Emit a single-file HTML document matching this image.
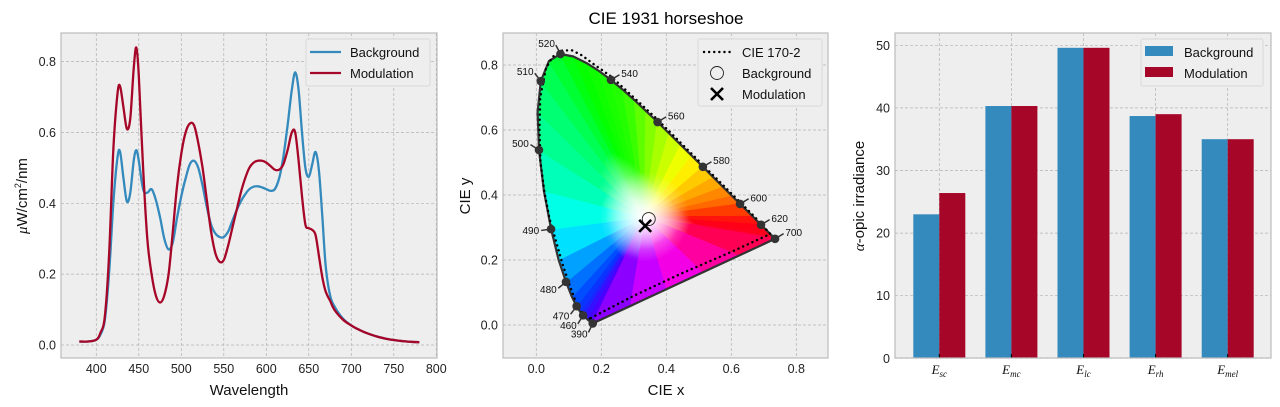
<!DOCTYPE html>
<html><head><meta charset="utf-8"><style>
body{margin:0;background:#fff}
svg{display:block;font-family:"Liberation Sans",sans-serif}
</style></head><body>
<svg id="fig" width="1280" height="407" viewBox="0 0 1280 407" xmlns="http://www.w3.org/2000/svg">
<text x="666" y="24" font-size="17" text-anchor="middle" fill="#000">CIE 1931 horseshoe</text>
</svg>
<script>
// ---------- DATA ----------
const wavelengths=[380,390,400,405,410,415,420,425,428,432,436,440,444,447,450,455,460,465,470,475,480,485,490,495,500,505,510,515,520,525,530,535,540,545,550,555,560,565,570,575,580,585,590,595,600,605,610,615,620,625,630,634,638,642,646,650,654,658,662,666,670,675,680,690,700,710,720,730,740,750,760,770,780];
const backgroundSpd=[.01,.01,.015,.03,.07,.2,.4,.53,.545,.47,.405,.43,.52,.55,.52,.44,.43,.44,.41,.36,.30,.27,.29,.36,.42,.47,.51,.52,.50,.45,.39,.34,.315,.305,.305,.32,.35,.38,.405,.425,.44,.447,.448,.445,.44,.435,.44,.47,.53,.62,.72,.77,.72,.6,.5,.475,.51,.545,.49,.36,.22,.14,.11,.075,.055,.042,.032,.024,.018,.014,.011,.009,.008];
const modulationSpd=[.01,.01,.015,.035,.08,.25,.55,.71,.73,.67,.61,.64,.78,.84,.76,.5,.3,.2,.14,.12,.14,.2,.32,.45,.54,.6,.625,.62,.57,.5,.41,.32,.26,.235,.24,.28,.33,.38,.43,.47,.5,.515,.52,.52,.515,.505,.495,.495,.51,.55,.6,.6,.52,.42,.34,.33,.325,.31,.25,.19,.15,.125,.1,.072,.055,.042,.032,.024,.018,.014,.011,.009,.008];
const spdXTicks=[400,450,500,550,600,650,700,750,800];
const spdYTicks=[0.0,0.2,0.4,0.6,0.8];

const locusNm=[390,400,420,440,450,460,465,470,475,480,485,490,495,500,505,510,515,520,525,530,535,540,545,550,555,560,565,570,575,580,585,590,595,600,610,620,630,640,660,700];
const locusX=[.1738,.1733,.1714,.1644,.1566,.1440,.1355,.1241,.1096,.0913,.0687,.0454,.0235,.0082,.0039,.0139,.0389,.0743,.1142,.1547,.1929,.2296,.2658,.3016,.3373,.3731,.4087,.4441,.4788,.5125,.5448,.5752,.6029,.6270,.6658,.6915,.7079,.7190,.7300,.7347];
const locusY=[.0049,.0048,.0051,.0109,.0177,.0297,.0399,.0578,.0868,.1327,.2007,.2950,.4127,.5384,.6548,.7502,.8120,.8338,.8262,.8059,.7816,.7543,.7243,.6923,.6589,.6245,.5896,.5547,.5202,.4866,.4544,.4242,.3965,.3725,.3340,.3083,.2920,.2809,.2700,.2653];
const cie170X=[.165,.14,.12,.10,.08,.06,.04,.025,.013,.01,.012,.03,.05,.08,.11,.14,.18,.23,.30,.37,.44,.50,.56,.62,.67,.72,.60,.45,.30,.165];
const cie170Y=[.02,.04,.075,.13,.19,.26,.33,.41,.50,.60,.70,.79,.825,.845,.845,.83,.80,.765,.70,.635,.565,.505,.445,.385,.335,.28,.225,.16,.09,.02];
const markerNm=[390,460,470,480,490,500,510,520,540,560,580,600,620,700];
const bgXY=[0.346,0.326];
const modXY=[0.335,0.305];
const cieTicks=[0.0,0.2,0.4,0.6,0.8];

const categories=["sc","mc","lc","rh","mel"];
const barBackground=[23.0,40.3,49.6,38.7,35.0];
const barModulation=[26.4,40.3,49.6,39.0,35.0];
const barYTicks=[0,10,20,30,40,50];

// ---------- HELPERS ----------
const NS="http://www.w3.org/2000/svg";
const fig=document.getElementById('fig');
function mk(tag,attrs,parent){const e=document.createElementNS(NS,tag);for(const k in attrs)e.setAttribute(k,attrs[k]);(parent||fig).appendChild(e);return e;}
function txt(s,attrs,parent){const e=mk('text',attrs,parent);e.textContent=s;return e;}
function smooth(pts){
  let d='M'+pts[0][0].toFixed(1)+','+pts[0][1].toFixed(1);
  for(let i=0;i<pts.length-1;i++){
    const p0=pts[Math.max(0,i-1)],p1=pts[i],p2=pts[i+1],p3=pts[Math.min(pts.length-1,i+2)];
    const c1=[p1[0]+(p2[0]-p0[0])/6,p1[1]+(p2[1]-p0[1])/6];
    const c2=[p2[0]-(p3[0]-p1[0])/6,p2[1]-(p3[1]-p1[1])/6];
    d+='C'+c1.map(v=>v.toFixed(1)).join(',')+' '+c2.map(v=>v.toFixed(1)).join(',')+' '+p2[0].toFixed(1)+','+p2[1].toFixed(1);
  }
  return d;
}
function axesBg(x0,y0,x1,y1,name){
  const r=mk('rect',{x:x0,y:y0,width:x1-x0,height:y1-y0,fill:'#eeeeee'});
  
  
}
function frame(x0,y0,x1,y1){const r=mk('rect',{x:x0,y:y0,width:x1-x0,height:y1-y0,fill:'none',stroke:'#bcbcbc','stroke-width':1.2});
  
  }
function gridV(x,y0,y1){const l=mk('line',{x1:x,x2:x,y1:y0,y2:y1,stroke:'#b2b2b2','stroke-width':0.7,'stroke-dasharray':'3,2'});
  
  }
function gridH(y,x0,x1){const l=mk('line',{x1:x0,x2:x1,y1:y,y2:y,stroke:'#b2b2b2','stroke-width':0.7,'stroke-dasharray':'3,2'});
  
  }

// ---------- PANEL 1: SPECTRUM ----------
(function(){
  const X0=61,X1=437,Y0=33,Y1=358;
  const sx=w=>96.3+(w-400)*0.85, sy=v=>345-v*354.2;
  axesBg(X0,Y0,X1,Y1,'spectrum-axes');
  spdXTicks.forEach(t=>{gridV(sx(t),Y0,Y1);
    const e=txt(String(t),{x:sx(t),y:373,'font-size':12.5,'text-anchor':'middle',fill:'#222'});
    
    });
  spdYTicks.forEach(t=>{gridH(sy(t),X0,X1);
    const e=txt(t.toFixed(1),{x:56,y:sy(t)+4.5,'font-size':12.5,'text-anchor':'end',fill:'#222'});
    
    });
  function line(vals,color,name){
    const d=smooth(wavelengths.map((w,i)=>[sx(w),sy(vals[i])]));
    const p=mk('path',{d:d,fill:'none',stroke:color,'stroke-width':2.3,'stroke-linejoin':'round'});
    
    
  }
  line(backgroundSpd,'#348abd','background-spectrum');
  line(modulationSpd,'#a60628','modulation-spectrum');
  frame(X0,Y0,X1,Y1);
  const xl=txt('Wavelength',{x:249,y:395,'font-size':15,'text-anchor':'middle',fill:'#111'});
  
  
  const yl=txt('',{x:0,y:0,'font-size':15,'text-anchor':'middle',fill:'#111',transform:'translate(27,196) rotate(-90)'});
  yl.innerHTML='<tspan font-style="italic" font-family="Liberation Serif">μ</tspan>W/cm<tspan font-size="9" dy="-6">2</tspan><tspan dy="6">/nm</tspan>';
  
  
  const lg=mk('g',{});
  
  
  mk('rect',{x:306,y:39,width:124,height:47,rx:2,fill:'#eeeeee',stroke:'#d8d8d8'},lg);
  mk('line',{x1:310,x2:341,y1:52,y2:52,stroke:'#348abd','stroke-width':2.2},lg);
  mk('line',{x1:310,x2:341,y1:73,y2:73,stroke:'#a60628','stroke-width':2.2},lg);
  txt('Background',{x:350,y:57,'font-size':13,fill:'#111'},lg);
  txt('Modulation',{x:350,y:78,'font-size':13,fill:'#111'},lg);
})();

// ---------- PANEL 2: CIE ----------
(function(){
  const X0=503,X1=828,Y0=33,Y1=358;
  const sx=v=>536.3+v*325, sy=v=>325-v*325;
  axesBg(X0,Y0,X1,Y1,'cie-axes');
  cieTicks.forEach(t=>{gridV(sx(t),Y0,Y1);gridH(sy(t),X0,X1);
    const a=txt(t.toFixed(1),{x:sx(t),y:373,'font-size':12.5,'text-anchor':'middle',fill:'#222'});
    
    
    const b=txt(t.toFixed(1),{x:498,y:sy(t)+4.5,'font-size':12.5,'text-anchor':'end',fill:'#222'});
    
    });
  function nmColor(nm){
    const stops=[[380,[110,0,255]],[450,[70,0,255]],[470,[0,60,255]],[480,[0,130,255]],[490,[0,255,255]],[500,[0,255,160]],[510,[0,255,100]],[525,[0,255,0]],[545,[40,255,0]],[560,[150,255,0]],[575,[255,255,0]],[590,[255,150,0]],[605,[255,60,0]],[620,[255,0,20]],[700,[255,0,50]]];
    for(let i=1;i<stops.length;i++){if(nm<=stops[i][0]){const a=stops[i-1],b=stops[i],t=(nm-a[0])/(b[0]-a[0]);return 'rgb('+a[1].map((c,k)=>Math.round(c+(b[1][k]-c)*t)).join(',')+')';}}
    return 'rgb(255,0,50)';
  }
  const wx=sx(0.333),wy=sy(0.333);
  const defs=mk('defs',{});
  const fillG=mk('g',{});
  
  
  let gid=0;
  function tri(ax,ay,bx,by,col){
    const mx=(ax+bx)/2,my=(ay+by)/2,id='g'+(gid++);
    const lg=mk('linearGradient',{id:id,gradientUnits:'userSpaceOnUse',x1:mx,y1:my,x2:wx,y2:wy},defs);
    mk('stop',{offset:0,'stop-color':col},lg);
    mk('stop',{offset:0.6,'stop-color':col},lg);
    mk('stop',{offset:1,'stop-color':'#ffffff'},lg);
    mk('path',{d:`M${wx},${wy}L${ax},${ay}L${bx},${by}Z`,fill:`url(#${id})`,stroke:`url(#${id})`,'stroke-width':1.2},fillG);
  }
  for(let i=0;i<locusNm.length-1;i++){
    tri(sx(locusX[i]),sy(locusY[i]),sx(locusX[i+1]),sy(locusY[i+1]),nmColor((locusNm[i]+locusNm[i+1])/2));
  }
  const pc=[[255,0,50],[255,0,120],[255,0,200],[230,0,255],[170,0,255],[110,0,255]];
  const n=locusNm.length-1;
  for(let k=0;k<5;k++){
    const t0=k/5,t1=(k+1)/5;
    const ax=sx(locusX[n]+(locusX[0]-locusX[n])*t0),ay=sy(locusY[n]+(locusY[0]-locusY[n])*t0);
    const bx=sx(locusX[n]+(locusX[0]-locusX[n])*t1),by=sy(locusY[n]+(locusY[0]-locusY[n])*t1);
    const c=pc[k].map((v,j)=>Math.round((v+pc[k+1][j])/2));
    tri(ax,ay,bx,by,'rgb('+c.join(',')+')');
  }
  // soft white glow in center
  const rg=mk('radialGradient',{id:'wg',gradientUnits:'userSpaceOnUse',cx:wx,cy:wy,r:45},defs);
  mk('stop',{offset:0,'stop-color':'#fff','stop-opacity':0.8},rg);
  mk('stop',{offset:1,'stop-color':'#fff','stop-opacity':0},rg);
  mk('circle',{cx:wx,cy:wy,r:45,fill:'url(#wg)'},fillG);
  const d=locusX.map((x,i)=>(i?'L':'M')+sx(x).toFixed(1)+','+sy(locusY[i]).toFixed(1)).join('')+'Z';
  const outline=mk('path',{d:d,fill:'none',stroke:'#333','stroke-width':2.2,'stroke-linejoin':'round'});
  
  
  const d2=cie170X.map((x,i)=>(i?'L':'M')+sx(x).toFixed(1)+','+sy(cie170Y[i]).toFixed(1)).join('');
  const dot=mk('path',{d:d2,fill:'none',stroke:'#000','stroke-width':2.4,'stroke-dasharray':'0.1,5','stroke-linecap':'round'});
  
  
  markerNm.forEach(nm=>{
    const i=locusNm.indexOf(nm);const px=sx(locusX[i]),py=sy(locusY[i]);
    let dx=px-wx,dy=py-wy;
    if(nm>=540){dx=1;dy=-0.6;}
    const L=Math.hypot(dx,dy);dx/=L;dy/=L;
    const g=mk('g',{});
    
    
    mk('line',{x1:px,y1:py,x2:px+dx*10,y2:py+dy*10,stroke:'#333','stroke-width':1.5},g);
    mk('circle',{cx:px,cy:py,r:4.3,fill:'#333'},g);
    const lx=px+dx*12,ly=py+dy*12+3.5;
    txt(String(nm),{x:lx,y:ly,'font-size':10,'text-anchor':dx<-0.3?'end':(dx>0.3?'start':'middle'),fill:'#111'},g);
  });
  const bc=mk('circle',{cx:sx(bgXY[0]),cy:sy(bgXY[1]),r:6.5,fill:'none',stroke:'#222','stroke-width':0.9});
  
  
  const mx=sx(modXY[0]),my=sy(modXY[1]);
  const xm=mk('path',{d:`M${mx-6},${my-6}L${mx+6},${my+6}M${mx-6},${my+6}L${mx+6},${my-6}`,stroke:'#000','stroke-width':2.6});
  
  
  frame(X0,Y0,X1,Y1);
  const xl=txt('CIE x',{x:666,y:395,'font-size':15,'text-anchor':'middle',fill:'#111'});
  
  
  const yl=txt('CIE y',{x:0,y:0,'font-size':15,'text-anchor':'middle',fill:'#111',transform:'translate(470,196) rotate(-90)'});
  
  
  const lg=mk('g',{});
  
  
  mk('rect',{x:698,y:39,width:124,height:67,rx:2,fill:'#eeeeee',stroke:'#d8d8d8'},lg);
  mk('line',{x1:704,x2:732,y1:52,y2:52,stroke:'#000','stroke-width':2.4,'stroke-dasharray':'0.1,5','stroke-linecap':'round'},lg);
  mk('circle',{cx:717,cy:73,r:6.5,fill:'none',stroke:'#222','stroke-width':0.9},lg);
  mk('path',{d:'M711,88L723,100M711,100L723,88',stroke:'#000','stroke-width':2.6},lg);
  txt('CIE 170-2',{x:742,y:57,'font-size':13,fill:'#111'},lg);
  txt('Background',{x:742,y:78,'font-size':13,fill:'#111'},lg);
  txt('Modulation',{x:742,y:99,'font-size':13,fill:'#111'},lg);
})();

// ---------- PANEL 3: BARS ----------
(function(){
  const X0=895,X1=1271,Y0=33,Y1=358;
  const sx=i=>939.3+i*72.1, sy=v=>358.3-v*6.26, bw=26;
  axesBg(X0,Y0,X1,Y1,'bar-axes');
  barYTicks.forEach(t=>{gridH(sy(t),X0,X1);
    const e=txt(String(t),{x:890,y:sy(t)+4.5,'font-size':12.5,'text-anchor':'end',fill:'#222'});
    
    });
  categories.forEach((c,i)=>gridV(sx(i),Y0,Y1));
  categories.forEach((c,i)=>{
    const b1=mk('rect',{x:sx(i)-bw,y:sy(barBackground[i]),width:bw,height:sy(0)-sy(barBackground[i]),fill:'#348abd'});
    
    
    const b2=mk('rect',{x:sx(i),y:sy(barModulation[i]),width:bw,height:sy(0)-sy(barModulation[i]),fill:'#a60628'});
    
    
    mk('line',{x1:sx(i),x2:sx(i),y1:Y1,y2:Y1-4,stroke:'#000','stroke-width':1});
    const t=txt('',{x:sx(i),y:374,'font-size':13,'text-anchor':'middle',fill:'#111','font-family':'Liberation Serif','font-style':'italic'});
    t.innerHTML='E<tspan font-size="9" dy="3">'+c+'</tspan>';
    
    
  });
  frame(X0,Y0,X1,Y1);
  const yl=txt('',{x:0,y:0,'font-size':15,'text-anchor':'middle',fill:'#111',transform:'translate(864,196) rotate(-90)'});
  yl.innerHTML='<tspan font-style="italic" font-family="Liberation Serif">α</tspan>-opic irradiance';
  
  
  const lg=mk('g',{});
  
  
  mk('rect',{x:1141,y:39,width:122,height:47,rx:2,fill:'#eeeeee',stroke:'#d8d8d8'},lg);
  mk('rect',{x:1145,y:46,width:28,height:10,fill:'#348abd'},lg);
  mk('rect',{x:1145,y:67,width:28,height:10,fill:'#a60628'},lg);
  txt('Background',{x:1184,y:57,'font-size':13,fill:'#111'},lg);
  txt('Modulation',{x:1184,y:78,'font-size':13,fill:'#111'},lg);
})();
</script>
</body></html>
